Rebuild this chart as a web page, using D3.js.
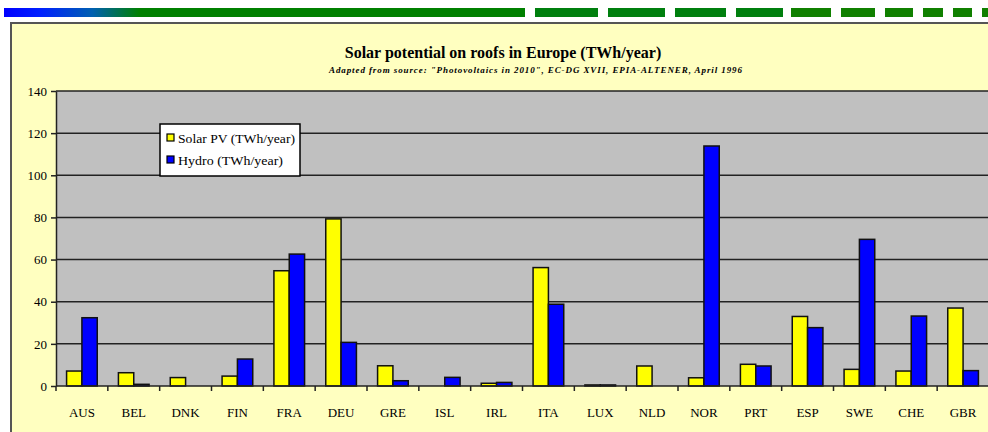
<!DOCTYPE html>
<html>
<head>
<meta charset="utf-8">
<script src="https://cdn.jsdelivr.net/npm/d3@7"></script>
<style>
  body { margin: 0; background: #ffffff; }
  text { font-family: "Liberation Serif", "Times New Roman", serif; fill: #000; }
</style>
</head>
<body>
<div id="chart"></div>
<script>
let width = 988;
let height = 432;
let margin = ({top: 91, right: -1, bottom: 46, left: 56});

// chart data
let countries = ["AUS", "BEL", "DNK", "FIN", "FRA", "DEU", "GRE", "ISL", "IRL",
                 "ITA", "LUX", "NLD", "NOR", "PRT", "ESP", "SWE", "CHE", "GBR"];
let solarPV = [7.1, 6.3, 4, 4.7, 54.7, 79.3, 9.6, 0, 1.3,
               56.2, 0.5, 9.5, 3.9, 10.3, 33, 7.9, 7.1, 37];
let hydro = [32.4, 0.8, 0, 12.8, 62.6, 20.7, 2.5, 4.1, 1.7,
             38.8, 0.5, 0, 113.9, 9.5, 27.7, 69.6, 33.2, 7.3];
let seriesNames = ["Solar PV (TWh/year)", "Hydro (TWh/year)"];
let seriesColors = ["#ffff00", "#0000ff"];
let yTicks = [0, 20, 40, 60, 80, 100, 120, 140];

let rows = countries.map((c, i) => ({country: c, values: [solarPV[i], hydro[i]]}));

let svg = d3.select("#chart")
    .append("svg")
    .attr("width", width)
    .attr("height", height);

// header band: gradient then dashes
let defs = svg.append("defs");
let grad = defs.append("linearGradient").attr("id", "band");
grad.append("stop").attr("offset", "0%").attr("stop-color", "#0000ff");
grad.append("stop").attr("offset", "7%").attr("stop-color", "#0020ff");
grad.append("stop").attr("offset", "17%").attr("stop-color", "#0060b0");
grad.append("stop").attr("offset", "26%").attr("stop-color", "#008000");
grad.append("stop").attr("offset", "100%").attr("stop-color", "#008000");
svg.append("rect")
    .attr("x", 4).attr("y", 8).attr("width", 521).attr("height", 9)
    .attr("fill", "url(#band)");

let dashes = [[535, 598], [608, 665], [675, 726], [736, 783], [791, 831],
              [841, 875], [885, 913], [923, 943], [953, 972], [982, 992]];
svg.selectAll(".dash")
    .data(dashes)
    .enter().append("rect")
    .attr("class", "dash")
    .attr("x", d => d[0]).attr("y", 8)
    .attr("width", d => d[1] - d[0]).attr("height", 9)
    .attr("fill", (d, i) => i < 4 ? "#007f0e" : "#108000");

// chart frame
svg.append("rect")
    .attr("x", 11).attr("y", 23)
    .attr("width", 1000).attr("height", 430)
    .attr("fill", "#ffffc0")
    .attr("stroke", "#555")
    .attr("stroke-width", 2);

let plotRight = width - margin.right;
let plotBottom = height - margin.bottom;

let x0 = d3.scaleBand()
    .domain(countries)
    .range([margin.left, plotRight])
    .padding(0);

let x1 = d3.scaleBand()
    .domain([0, 1])
    .range([0, x0.bandwidth()])
    .paddingInner(0)
    .paddingOuter(0.69);

let y = d3.scaleLinear()
    .domain([0, 140])
    .range([plotBottom, margin.top]);

// plot area
svg.append("rect")
    .attr("x", margin.left).attr("y", margin.top)
    .attr("width", plotRight - margin.left).attr("height", plotBottom - margin.top)
    .attr("fill", "#c0c0c0");

// gridlines
svg.append("g")
    .selectAll("line")
    .data(yTicks.slice(1))
    .enter().append("line")
    .attr("x1", margin.left).attr("x2", plotRight)
    .attr("y1", d => y(d)).attr("y2", d => y(d))
    .attr("stroke", "#222")
    .attr("stroke-width", 1.5);

// bars
let groups = svg.append("g")
    .selectAll("g")
    .data(rows)
    .enter().append("g")
    .attr("transform", d => "translate(" + x0(d.country) + ",0)");

groups.selectAll("rect")
    .data(d => d.values.map((v, i) => ({v: v, i: i})).filter(e => e.v > 0))
    .enter().append("rect")
    .attr("x", d => x1(d.i))
    .attr("width", x1.bandwidth())
    .attr("y", d => y(d.v))
    .attr("height", d => y(0) - y(d.v))
    .attr("fill", d => seriesColors[d.i])
    .attr("stroke", "#111")
    .attr("stroke-width", 1.5);

// y axis
let yAxis = d3.axisLeft(y)
    .tickValues(yTicks)
    .tickSize(5)
    .tickPadding(4)
    .tickSizeOuter(0);

let yg = svg.append("g")
    .attr("transform", "translate(" + margin.left + ",0)")
    .call(yAxis);
yg.select(".domain").attr("stroke", "#222").attr("stroke-width", 1.5);
yg.selectAll(".tick line").attr("stroke", "#222").attr("stroke-width", 1.5);
yg.selectAll(".tick text")
    .style("font-family", "'Liberation Serif', serif")
    .style("font-size", "13px")
    .attr("fill", "#000");

// x axis: ticks at category boundaries
let xg = svg.append("g");
xg.append("line")
    .attr("x1", margin.left).attr("x2", plotRight)
    .attr("y1", plotBottom).attr("y2", plotBottom)
    .attr("stroke", "#222").attr("stroke-width", 1.5);
xg.selectAll(".xt")
    .data(countries)
    .enter().append("line")
    .attr("class", "xt")
    .attr("x1", d => x0(d)).attr("x2", d => x0(d))
    .attr("y1", plotBottom).attr("y2", plotBottom + 5)
    .attr("stroke", "#222").attr("stroke-width", 1.5);
xg.selectAll(".xl")
    .data(countries)
    .enter().append("text")
    .attr("class", "xl")
    .attr("x", d => x0(d) + x0.bandwidth() / 2)
    .attr("y", plotBottom + 31)
    .attr("text-anchor", "middle")
    .style("font-size", "13px")
    .text(d => d);

// titles
svg.append("text")
    .attr("x", 503).attr("y", 58)
    .attr("text-anchor", "middle")
    .style("font-size", "16px")
    .style("font-weight", "bold")
    .text("Solar potential on roofs in Europe (TWh/year)");

svg.append("text")
    .attr("x", 329).attr("y", 73)
    .attr("textLength", 413)
    .attr("lengthAdjust", "spacing")
    .style("font-size", "9px")
    .style("font-style", "italic")
    .style("font-weight", "bold")
    .text("Adapted from source: \"Photovoltaics in 2010\", EC-DG XVII, EPIA-ALTENER, April 1996");

// legend
let legend = svg.append("g").attr("transform", "translate(160,124)");
legend.append("rect")
    .attr("width", 140).attr("height", 52)
    .attr("fill", "#ffffff")
    .attr("stroke", "#000")
    .attr("stroke-width", 1.5);
let legendLengths = [117, 105];
let items = legend.selectAll(".li")
    .data(seriesNames)
    .enter().append("g")
    .attr("class", "li")
    .attr("transform", (d, i) => "translate(0," + (i * 22) + ")");
items.append("rect")
    .attr("x", 7).attr("y", 10)
    .attr("width", 7).attr("height", 7)
    .attr("fill", (d, i) => seriesColors[i])
    .attr("stroke", "#000")
    .attr("stroke-width", 1.2);
items.append("text")
    .attr("x", 18).attr("y", 19)
    .attr("textLength", (d, i) => legendLengths[i])
    .attr("lengthAdjust", "spacingAndGlyphs")
    .style("font-size", "12.5px")
    .text(d => d);
</script>
</body>
</html>
